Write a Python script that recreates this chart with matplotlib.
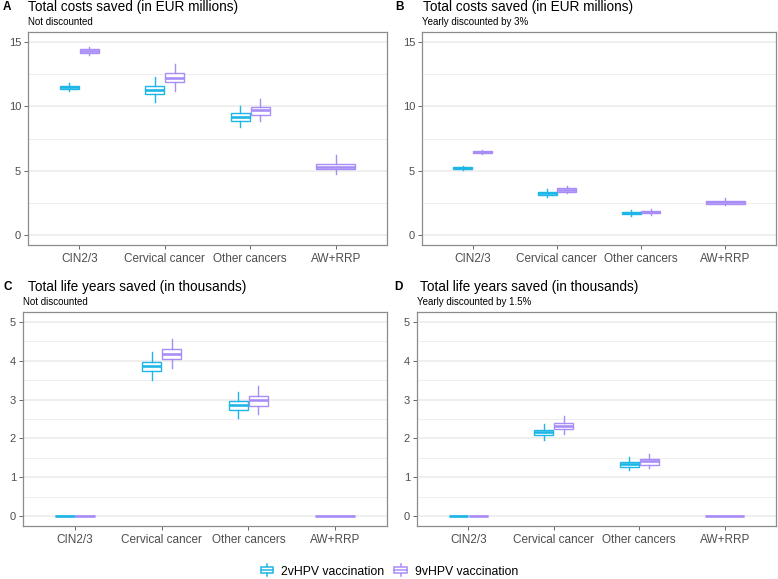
import matplotlib
matplotlib.use("Agg")
import matplotlib.pyplot as plt
from matplotlib.patches import Patch, Rectangle
from matplotlib.lines import Line2D
from matplotlib.legend_handler import HandlerBase
from matplotlib.ticker import MultipleLocator

plt.rcParams['font.family'] = ['Liberation Sans', 'DejaVu Sans']

categories = ["CIN2/3", "Cervical cancer", "Other cancers", "AW+RRP"]
series_names = ["2vHPV vaccination", "9vHPV vaccination"]

# five-number summaries per category: (low whisker, q1, median, q3, high whisker)
costs_2v = [(11.2, 11.36, 11.47, 11.6, 11.78), (10.33, 10.95, 11.29, 11.6, 12.27),
            (8.4, 8.87, 9.17, 9.5, 10.0), None]
costs_9v = [(13.95, 14.13, 14.28, 14.42, 14.62), (11.18, 11.87, 12.22, 12.57, 13.3),
            (8.86, 9.34, 9.69, 9.97, 10.55), (4.74, 5.1, 5.31, 5.56, 6.2)]
costs_2v_disc = [(5.06, 5.14, 5.22, 5.3, 5.39), (3.0, 3.15, 3.27, 3.39, 3.58),
                 (1.53, 1.63, 1.72, 1.82, 1.95), None]
costs_9v_disc = [(6.3, 6.38, 6.46, 6.53, 6.6), (3.25, 3.38, 3.52, 3.65, 3.83),
                 (1.58, 1.71, 1.8, 1.89, 2.02), (2.33, 2.45, 2.56, 2.67, 2.87)]
life_2v = [(0, 0, 0, 0, 0), (3.51, 3.74, 3.86, 3.97, 4.22),
           (2.53, 2.72, 2.85, 2.96, 3.2), None]
life_9v = [(0, 0, 0, 0, 0), (3.82, 4.05, 4.17, 4.3, 4.56),
           (2.64, 2.84, 2.98, 3.1, 3.36), (0, 0, 0, 0, 0)]
life_2v_disc = [(0, 0, 0, 0, 0), (1.95, 2.09, 2.16, 2.23, 2.38),
                (1.18, 1.27, 1.34, 1.4, 1.52), None]
life_9v_disc = [(0, 0, 0, 0, 0), (2.12, 2.24, 2.33, 2.41, 2.57),
                (1.23, 1.33, 1.41, 1.47, 1.59), (0, 0, 0, 0, 0)]

colors = ["#1EB6E6", "#A98DF7"]
grid_col = "#EBEBEB"
text_col = "#4D4D4D"

fig = plt.figure(figsize=(7.78, 5.79), dpi=100)
W, H = 778, 579


def px_axes(left, top, right, bottom):
    return fig.add_axes([left / W, 1 - bottom / H, (right - left) / W, (bottom - top) / H])


def draw_panel(ax, s2, s9, ymax, major, minor):
    half = 0.115
    for i, (a, b) in enumerate(zip(s2, s9)):
        pairs = []
        if a is not None and b is not None:
            pairs = [(a, i - half, 2 * half * 0.97, colors[0]), (b, i + half, 2 * half * 0.97, colors[1])]
        elif b is not None:
            pairs = [(b, i, 4 * half, colors[1])]
        for st, pos, w, c in pairs:
            stats = [dict(whislo=st[0], q1=st[1], med=st[2], q3=st[3], whishi=st[4], fliers=[])]
            ax.bxp(stats, positions=[pos], widths=w, showcaps=False, showfliers=False,
                   patch_artist=True, manage_ticks=False,
                   boxprops=dict(facecolor="white", edgecolor=c, linewidth=1.0),
                   whiskerprops=dict(color=c, linewidth=1.0),
                   medianprops=dict(color=c, linewidth=1.9, solid_capstyle="butt"))
    ax.set_xlim(-0.6, 3.6)
    ax.set_ylim(-0.05 * ymax, ymax * 1.05)
    ax.set_xticks(range(len(categories)))
    ax.set_xticklabels(categories, fontsize=8.5, color=text_col)
    ax.yaxis.set_major_locator(MultipleLocator(major))
    ax.yaxis.set_minor_locator(MultipleLocator(minor))
    ax.tick_params(axis="y", labelsize=8, colors=text_col, length=3, width=0.6, pad=2)
    ax.tick_params(axis="x", colors=text_col, length=3, width=0.6, pad=3)
    ax.tick_params(which="minor", length=0)
    ax.set_axisbelow(True)
    ax.grid(axis="y", which="major", color=grid_col, linewidth=1.1)
    ax.grid(axis="y", which="minor", color=grid_col, linewidth=0.6)
    for sp in ax.spines.values():
        sp.set_color("#8C8C8C")
        sp.set_linewidth(0.9)
    ax.set_facecolor("white")


class BoxKey(HandlerBase):
    def create_artists(self, legend, orig, xd, yd, width, height, fontsize, trans):
        c = orig.get_edgecolor()
        cx = xd + width / 2
        rect = Rectangle((xd + width * 0.05, yd + height * 0.15), width * 0.9, height * 0.7,
                         facecolor="white", edgecolor=c, linewidth=1.1, transform=trans)
        med = Line2D([xd + width * 0.05, xd + width * 0.95], [yd + height * 0.5] * 2,
                     color=c, linewidth=1.1, transform=trans)
        w1 = Line2D([cx, cx], [yd - height * 0.1, yd + height * 0.15], color=c, linewidth=1.1, transform=trans)
        w2 = Line2D([cx, cx], [yd + height * 0.85, yd + height * 1.1], color=c, linewidth=1.1, transform=trans)
        return [w1, w2, rect, med]


ax_a = px_axes(28, 32, 387, 245)
ax_b = px_axes(422, 32, 776, 245)
ax_c = px_axes(23, 312, 387, 526)
ax_d = px_axes(417, 312, 776, 526)

draw_panel(ax_a, costs_2v, costs_9v, 15, 5, 2.5)
draw_panel(ax_b, costs_2v_disc, costs_9v_disc, 15, 5, 2.5)
draw_panel(ax_c, life_2v, life_9v, 5, 1, 0.5)
draw_panel(ax_d, life_2v_disc, life_9v_disc, 5, 1, 0.5)

headers = [
    ("A", 3, 28, 28, 7, 22, "Total costs saved (in EUR millions)", "Not discounted"),
    ("B", 395, 423, 422, 7, 22, "Total costs saved (in EUR millions)", "Yearly discounted by 3%"),
    ("C", 3, 28, 23, 287, 302, "Total life years saved (in thousands)", "Not discounted"),
    ("D", 394, 420, 417, 287, 302, "Total life years saved (in thousands)", "Yearly discounted by 1.5%"),
]
for tag, xt, xtitle, xsub, yt, ys, title, sub in headers:
    fig.text(xt / W, 1 - yt / H, tag, fontsize=8.5, fontweight="bold", va="center", ha="left", color="black")
    fig.text(xtitle / W, 1 - yt / H, title, fontsize=9.8, va="center", ha="left", color="black")
    fig.text(xsub / W, 1 - ys / H, sub, fontsize=7, va="center", ha="left", color="black")

handles = [Patch(facecolor="white", edgecolor=c, linewidth=1.0, label=n) for c, n in zip(colors, series_names)]
fig.legend(handles=handles, loc="center", bbox_to_anchor=(0.5, 1 - 572 / H), ncol=2, frameon=False,
           fontsize=8.8, handlelength=1.1, handleheight=0.8, handletextpad=0.6, columnspacing=0.8,
           handler_map={Patch: BoxKey()})

fig.savefig("out.png", dpi=100, facecolor="white")
